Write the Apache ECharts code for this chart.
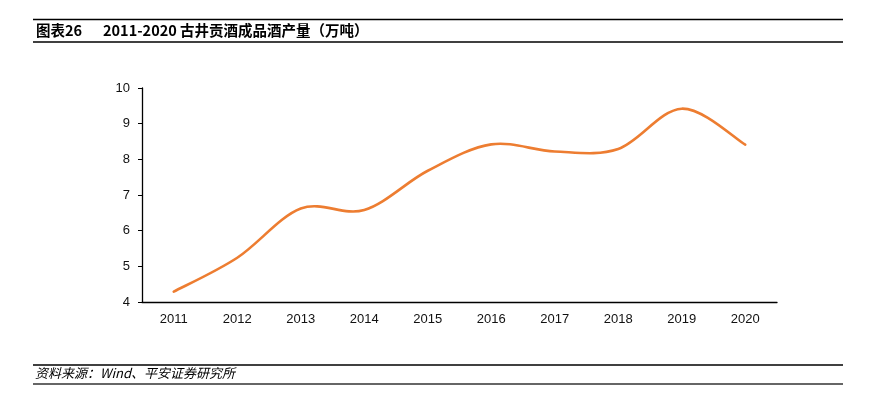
<!DOCTYPE html>
<html><head><meta charset="utf-8">
<script src="https://cdn.jsdelivr.net/npm/echarts@6/dist/echarts.min.js"></script>
<style>html,body{margin:0;padding:0;background:#fff}#c{width:869px;height:398px}</style>
</head><body><div id="c"></div>
<script>
var years = ['2011','2012','2013','2014','2015','2016','2017','2018','2019','2020'];
var output = [4.29, 5.24, 6.62, 6.58, 7.68, 8.42, 8.22, 8.29, 9.42, 8.41];
var yTicks = [4, 5, 6, 7, 8, 9, 10];

var chart = echarts.init(document.getElementById('c'), null, {renderer:'canvas'});
var font = '"Liberation Sans", Arial, "Noto Sans CJK SC", sans-serif';

// Excel-like smooth curve built from the axis coordinates of each data point
function renderCurve(params, api) {
  if (params.dataIndex !== 0) return null;
  var pts = output.map(function (v, i) { return api.coord([i, v]); });
  var t = 1 / 6;
  var d = 'M' + pts[0][0] + ' ' + pts[0][1];
  for (var i = 0; i < pts.length - 1; i++) {
    var p0 = pts[Math.max(i - 1, 0)], p1 = pts[i], p2 = pts[i + 1], p3 = pts[Math.min(i + 2, pts.length - 1)];
    var c1x = p1[0] + (p2[0] - p0[0]) * t, c1y = p1[1] + (p2[1] - p0[1]) * t;
    var c2x = p2[0] - (p3[0] - p1[0]) * t, c2y = p2[1] - (p3[1] - p1[1]) * t;
    d += ' C' + c1x + ' ' + c1y + ' ' + c2x + ' ' + c2y + ' ' + p2[0] + ' ' + p2[1];
  }
  return {
    type: 'path',
    shape: { pathData: d },
    style: { fill: null, stroke: '#ED7D31', lineWidth: 2.6, lineCap: 'round', lineJoin: 'round' }
  };
}

chart.setOption({
  animation:false,
  backgroundColor:'#fff',
  grid:{left:142, right:92, top:88, bottom:96},
  xAxis:{
    type:'category', data:years, boundaryGap:true,
    axisLine:{lineStyle:{color:'#000', width:1.3}},
    axisTick:{inside:true, length:5, lineStyle:{color:'#000'}},
    axisLabel:{color:'#111', fontSize:13, fontFamily:font, margin:11}
  },
  yAxis:{
    type:'value', min:yTicks[0], max:yTicks[yTicks.length-1], interval:1,
    splitLine:{show:false},
    axisLine:{show:true, lineStyle:{color:'#000', width:1.3}},
    axisTick:{show:true, length:4, lineStyle:{color:'#000'}},
    axisLabel:{color:'#111', fontSize:13, fontFamily:font, margin:12}
  },
  series:[{
    type:'custom', renderItem: renderCurve,
    data: output.map(function (v, i) { return [i, v]; }),
    encode:{x:0, y:1}, clip:false
  }],
  graphic:[
    {type:'line', shape:{x1:33,y1:19.5,x2:843,y2:19.5}, style:{stroke:'#000', lineWidth:1.5}},
    {type:'line', shape:{x1:33,y1:42,x2:843,y2:42}, style:{stroke:'#000', lineWidth:1.5}},
    {type:'text', left:36, top:23, style:{text:'图表26', font:'bold 14.5px "Noto Sans CJK SC", sans-serif', fill:'#000'}},
    {type:'text', left:103, top:23, style:{text:'2011-2020 古井贡酒成品酒产量（万吨）', font:'bold 14.5px "Noto Sans CJK SC", sans-serif', fill:'#000'}},
    {type:'line', shape:{x1:33,y1:365,x2:843,y2:365}, style:{stroke:'#000', lineWidth:1.3}},
    {type:'line', shape:{x1:33,y1:384,x2:843,y2:384}, style:{stroke:'#333', lineWidth:1.3}},
    {type:'text', left:35, top:367, style:{text:'资料来源：Wind、平安证券研究所', font:'italic 13px "Noto Sans CJK SC", sans-serif', fill:'#000'}}
  ]
});
</script></body></html>
